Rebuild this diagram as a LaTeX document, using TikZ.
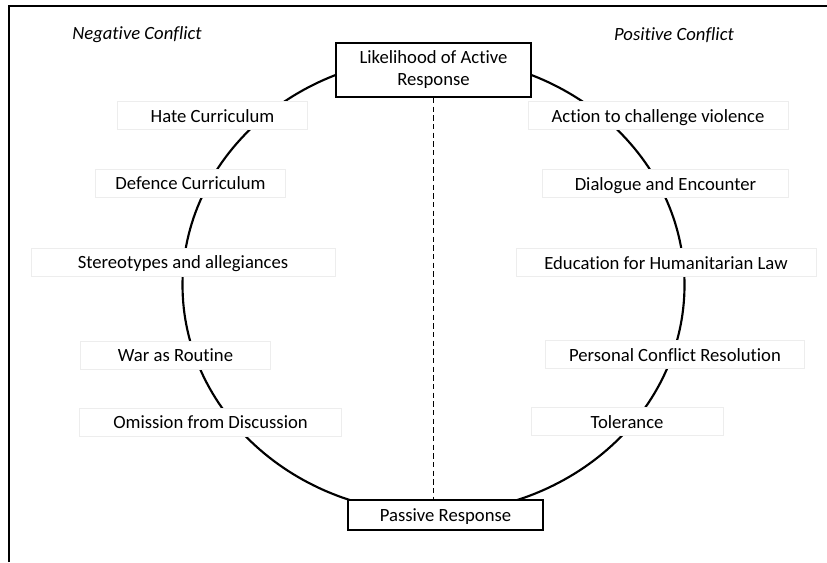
\documentclass[tikz,border=0pt]{standalone}
\usepackage{fontspec}
\setmainfont{Carlito}[RawFeature=-liga]
\begin{document}
\begin{tikzpicture}[x=0.75pt,y=-0.75pt,
  every node/.style={font=\fontsize{14}{16.5}\selectfont, inner sep=0pt},
  label box/.style={draw=black!7, line width=0.6pt, fill=white, minimum height=21pt, text height=11pt, text depth=1.2pt},
  resp box/.style={draw=black, line width=1.6pt, fill=white, align=center},
  side title/.style={font=\fontsize{14}{16.5}\selectfont\itshape}]
\useasboundingbox (0,0) rectangle (827,562);
% frame
\draw[line width=1.6pt] (9,562) -- (9,6) -- (827,6);
% circle
\draw[line width=1.6pt] (433.5,285) ellipse [x radius=188.25pt, y radius=171pt];
% titles
\node[side title] (neg) at (137,35) {Negative Conflict};
\node[side title] (pos) at (674,35) {Positive Conflict};
% response boxes
\node[resp box, minimum width=146pt, minimum height=40.5pt] (active) at (433.5,70) {Likelihood of Active\\Response};
\node[resp box, minimum width=146pt, minimum height=22.5pt, text height=10.5pt, text depth=1.5pt] (passive) at (445.5,515) {Passive Response};
\draw[line width=0.6pt, dash pattern=on 4pt off 2.5pt] (active.south) -- (active.south |- passive.north);
% negative labels
\node[label box, minimum width=143pt] (hate) at (212.5,115.5) {Hate Curriculum};
\node[label box, minimum width=143pt] (defence) at (190.5,183) {Defence Curriculum};
\node[label box, minimum width=228pt] (stereo) at (183,262) {Stereotypes and allegiances};
\node[label box, minimum width=143pt] (war) at (175.5,355) {War as Routine};
\node[label box, minimum width=196pt] (omission) at (210.5,422) {Omission from Discussion};
% positive labels
\node[label box, minimum width=195pt] (action) at (658,115.5) {Action to challenge violence};
\node[label box, minimum width=184pt] (dialogue) at (665.5,183.5) {Dialogue and Encounter};
\node[label box, minimum width=225pt] (education) at (666,262.5) {Education for Humanitarian Law};
\node[label box, minimum width=194pt] (personal) at (675,354.5) {Personal Conflict Resolution};
\node[label box, minimum width=144pt] (tolerance) at (627,421.5) {Tolerance};
\end{tikzpicture}
\end{document}
